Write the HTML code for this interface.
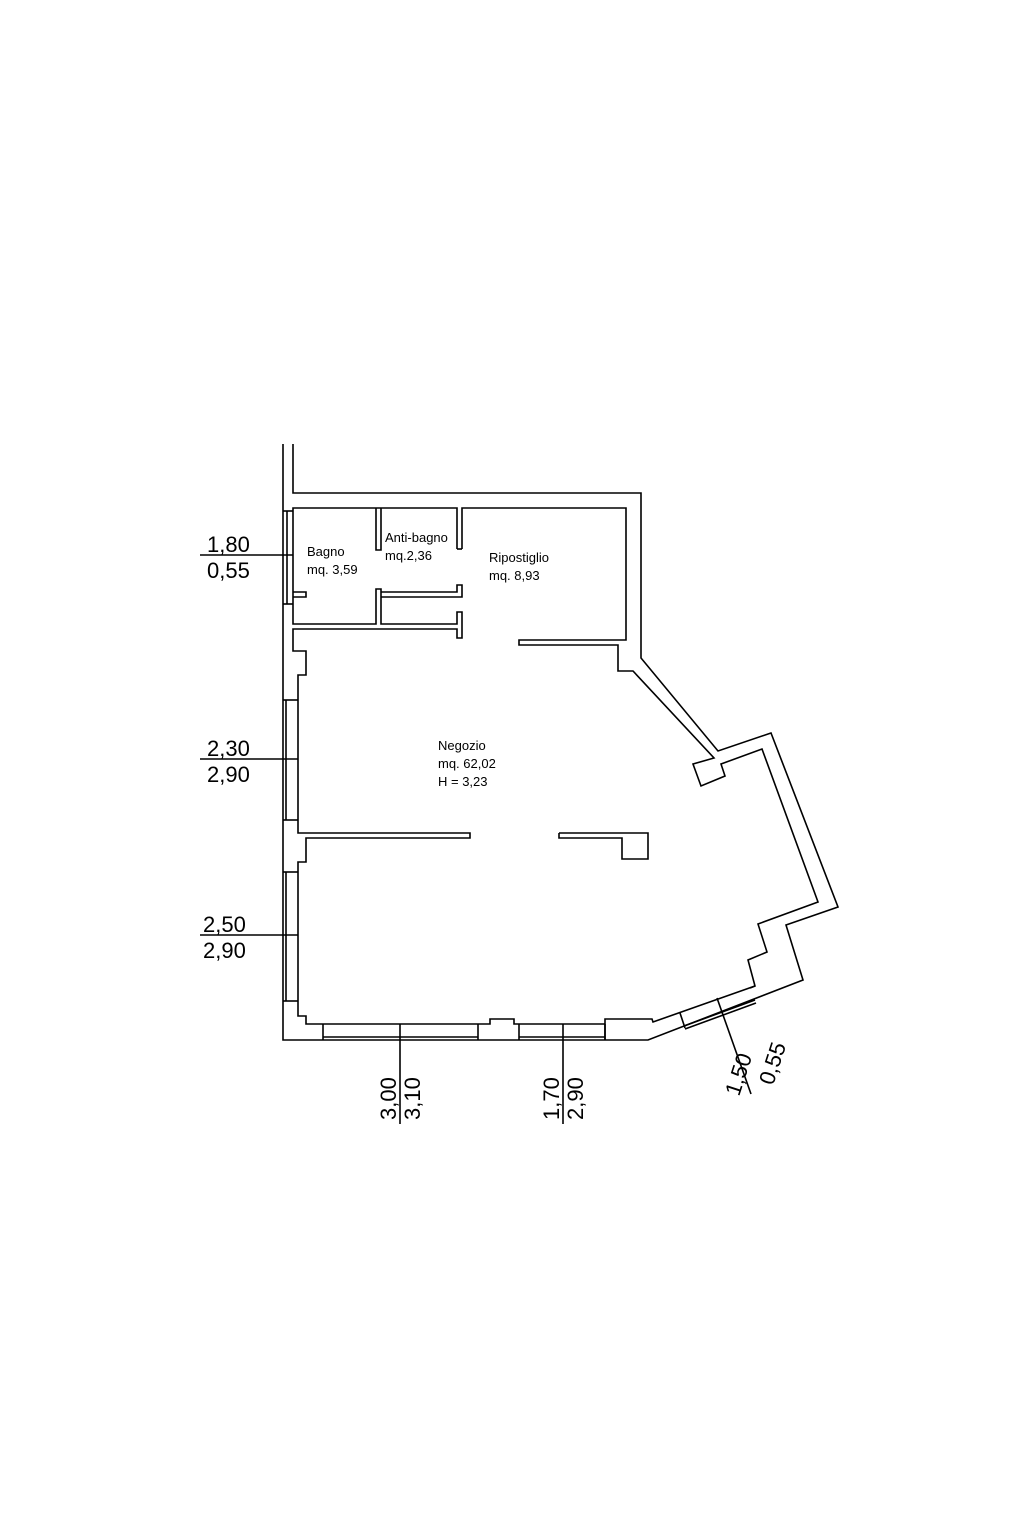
<!DOCTYPE html>
<html><head><meta charset="utf-8"><style>html,body{margin:0;padding:0;background:#fff}svg{display:block}</style></head><body>
<svg width="1024" height="1536" viewBox="0 0 1024 1536" xmlns="http://www.w3.org/2000/svg">
<g fill="none" stroke="#000" stroke-width="1.6" stroke-linejoin="miter">
<polyline points="283,444 283,1040 648,1040 803,980 786,925 838,907 771,733 718,751 641,658 641,493 293,493 293,444"/>
<polyline points="457,549 457,508 293,508 293,624 376,624 376,589 381,589 381,624 457,624 457,612 462,612 462,638 457,638 457,629 293,629 293,651 306,651 306,675 298,675 298,833 470,833 470,838 306,838 306,862 298,862 298,1016 306,1016 306,1024 478,1024 478,1024"/>
<polyline points="462,549 462,508 626,508 626,640 519,640 519,645 618,645 618,671 633,671 714,758 693,764 701,786 725,776 721,764 762,749 818,902 758,924 767,952 748,960 755,986 653,1022 652,1019 605,1019 605,1040"/>
<polyline points="457,549 462,549"/>
<polyline points="376,508 376,550 381,550 381,508"/>
<polyline points="381,592 457,592 457,585 462,585 462,597 381,597"/>
<polyline points="293,592 306,592 306,597 293,597"/>
<polyline points="559,833 648,833 648,859 622,859 622,838 559,838 559,833"/>
<polyline points="478,1024 490,1024 490,1019 514,1019 514,1024 605,1024"/>
<line x1="478" y1="1024" x2="478" y2="1040"/>
<line x1="519" y1="1024" x2="519" y2="1040"/>
<line x1="323" y1="1024" x2="323" y2="1040"/>
<line x1="605" y1="1024" x2="605" y2="1040"/>
<line x1="323" y1="1037" x2="478" y2="1037"/>
<line x1="519" y1="1037" x2="605" y2="1037"/>
<line x1="283" y1="511" x2="293" y2="511"/><line x1="283" y1="604" x2="293" y2="604"/><line x1="287" y1="511" x2="287" y2="604"/>
<line x1="283" y1="700" x2="298" y2="700"/><line x1="283" y1="820" x2="298" y2="820"/><line x1="286" y1="700" x2="286" y2="820"/>
<line x1="283" y1="872" x2="298" y2="872"/><line x1="283" y1="1001" x2="298" y2="1001"/><line x1="286" y1="872" x2="286" y2="1001"/>
<line x1="680" y1="1013" x2="685" y2="1028"/>
<line x1="750" y1="988" x2="755" y2="986"/>
<line x1="684" y1="1026" x2="755" y2="1000"/>
<line x1="685" y1="1029" x2="756" y2="1003"/>
<line x1="200" y1="555" x2="293" y2="555"/>
<line x1="200" y1="759" x2="298" y2="759"/>
<line x1="200" y1="935" x2="298" y2="935"/>
<line x1="400" y1="1024" x2="400" y2="1124"/>
<line x1="563" y1="1024" x2="563" y2="1124"/>
<line x1="717" y1="998" x2="751" y2="1094"/>
</g>
<g font-family="'Liberation Sans', sans-serif" fill="#000">
<g font-size="22">
<text x="207" y="552">1,80</text><text x="207" y="578">0,55</text>
<text x="207" y="756">2,30</text><text x="207" y="782">2,90</text>
<text x="203" y="932">2,50</text><text x="203" y="958">2,90</text>
<text transform="translate(396,1120) rotate(-90)">3,00</text>
<text transform="translate(420,1120) rotate(-90)">3,10</text>
<text transform="translate(559,1120) rotate(-90)">1,70</text>
<text transform="translate(583,1120) rotate(-90)">2,90</text>
<text transform="translate(739,1097) rotate(-72)">1,50</text>
<text transform="translate(773,1086) rotate(-72)">0,55</text>
</g>
<g font-size="13">
<text x="307" y="556">Bagno</text><text x="307" y="574">mq. 3,59</text>
<text x="385" y="542">Anti-bagno</text><text x="385" y="560">mq.2,36</text>
<text x="489" y="562">Ripostiglio</text><text x="489" y="580">mq. 8,93</text>
<text x="438" y="750">Negozio</text><text x="438" y="768">mq. 62,02</text><text x="438" y="786">H = 3,23</text>
</g>
</g>
</svg>
</body></html>
